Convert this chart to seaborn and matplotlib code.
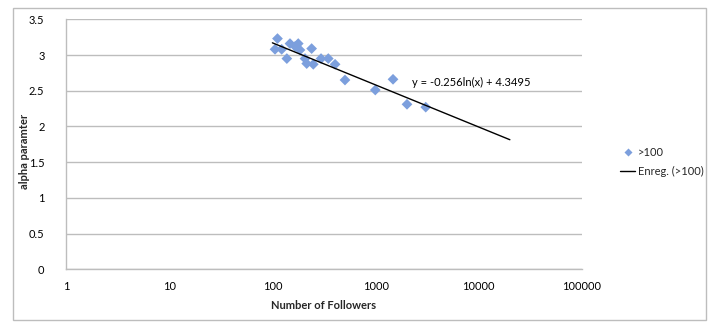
import numpy as np
import pandas as pd
import seaborn as sns
import matplotlib
matplotlib.use("Agg")
import matplotlib.pyplot as plt
from matplotlib.lines import Line2D
from matplotlib.patches import Rectangle

# ---- data ----
followers = [106, 112, 123, 138, 148, 166, 178, 185, 207, 215, 240, 249,
             296, 348, 405, 505, 993, 1475, 2015, 3060]
alpha = [3.08, 3.23, 3.08, 2.95, 3.16, 3.12, 3.16, 3.07, 2.95, 2.88, 3.09, 2.87,
         2.95, 2.95, 2.87, 2.65, 2.51, 2.66, 2.31, 2.27]
trend_slope = -0.256
trend_intercept = 4.3495
trend_range = [100, 20000]
x_ticks = [1, 10, 100, 1000, 10000, 100000]
x_tick_labels = ["1", "10", "100", "1000", "10000", "100000"]
y_ticks = [0, 0.5, 1, 1.5, 2, 2.5, 3, 3.5]
y_tick_labels = ["0", "0.5", "1", "1.5", "2", "2.5", "3", "3.5"]
series_label = ">100"
trend_label = "Enreg. (>100)"
equation = "y = -0.256ln(x) + 4.3495"

sns.set_style("white")
plt.rcParams["font.family"] = ["Lato", "DejaVu Sans"]

W, H = 716, 322
fig = plt.figure(figsize=(W / 100, H / 100), dpi=100)
ax = fig.add_axes([66 / W, 1 - 269.3 / H, (582 - 66) / W, (269.3 - 19.3) / H])

df = pd.DataFrame({"followers": followers, "alpha": alpha})
marker_color = "#7C9FDD"
sns.scatterplot(data=df, x="followers", y="alpha", marker="D", s=30,
                color=marker_color, edgecolor="none", ax=ax, zorder=3, legend=False)

tx = np.geomspace(trend_range[0], trend_range[1], 50)
ty = trend_slope * np.log(tx) + trend_intercept
sns.lineplot(x=tx, y=ty, color="black", linewidth=1.0, ax=ax, zorder=4, legend=False)

ax.set_xscale("log")
ax.set_xlim(1, 100000)
ax.set_ylim(0, 3.5)
ax.set_xticks(x_ticks)
ax.set_xticklabels(x_tick_labels)
ax.xaxis.set_minor_locator(matplotlib.ticker.NullLocator())
ax.set_yticks(y_ticks)
ax.set_yticklabels(y_tick_labels)

grid_c = "#BDBDBD"
ax.yaxis.grid(True, color=grid_c, linewidth=1.0)
ax.xaxis.grid(False)
ax.set_axisbelow(True)
for s in ["top", "right"]:
    ax.spines[s].set_visible(False)
for s in ["left", "bottom"]:
    ax.spines[s].set_color(grid_c)
    ax.spines[s].set_linewidth(1.0)
ax.tick_params(axis="both", which="major", direction="out", length=3.5,
               width=1.0, color=grid_c, labelsize=8, labelcolor="black")
ax.tick_params(axis="y", pad=12)
ax.tick_params(axis="x", pad=5)

ax.set_xlabel("Number of Followers", fontsize=8, fontweight="bold", labelpad=6)
ax.set_ylabel("alpha paramter", fontsize=8, fontweight="bold")
ax.yaxis.set_label_coords((30 - 66) / 516, 0.47)

ax.text(0.670, 0.746, equation, transform=ax.transAxes, fontsize=8,
        ha="left", va="center", color="black")

handles = [
    Line2D([], [], marker="D", linestyle="none", color=marker_color,
           markeredgecolor="none", markersize=4.5),
    Line2D([], [], color="black", linewidth=1.0),
]
fig.legend(handles, [series_label, trend_label], loc="center left",
           bbox_to_anchor=(611 / W, 1 - 162 / H), frameon=False, fontsize=8,
           handlelength=1.4, handletextpad=0.2, labelspacing=0.75,
           borderpad=0.3)

fig.patches.append(Rectangle((12.5 / W, 1 - 320 / H), (706 - 12.5) / W, (320 - 8) / H,
                             transform=fig.transFigure, fill=False,
                             edgecolor="#BDBDBD", linewidth=1.0))

fig.savefig("out.png", dpi=100)
